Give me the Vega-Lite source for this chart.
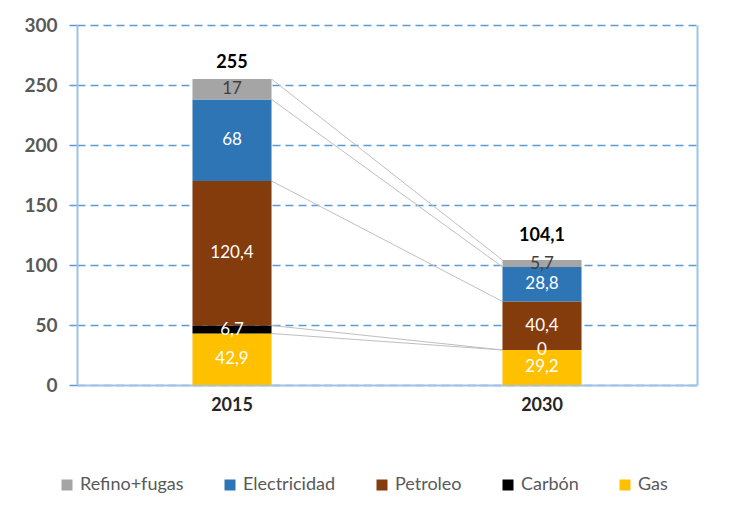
{
  "$schema": "https://vega.github.io/schema/vega-lite/v6.json",
  "autosize": "none",
  "width": 620,
  "height": 360,
  "padding": {"left": 77, "top": 25, "right": 33, "bottom": 137},
  "background": "white",
  "config": {
    "font": "Lato",
    "view": {"stroke": null},
    "locale": {"number": {"decimal": ",", "thousands": ".", "grouping": [3], "currency": ["", " €"]}}
  },
  "data": {
    "values": [
      {"year": "2015", "cat": "Gas", "value": 42.9, "order": 1},
      {"year": "2015", "cat": "Carbón", "value": 6.7, "order": 2},
      {"year": "2015", "cat": "Petroleo", "value": 120.4, "order": 3},
      {"year": "2015", "cat": "Electricidad", "value": 68, "order": 4},
      {"year": "2015", "cat": "Refino+fugas", "value": 17, "order": 5},
      {"year": "2030", "cat": "Gas", "value": 29.2, "order": 1},
      {"year": "2030", "cat": "Carbón", "value": 0, "order": 2},
      {"year": "2030", "cat": "Petroleo", "value": 40.4, "order": 3},
      {"year": "2030", "cat": "Electricidad", "value": 28.8, "order": 4},
      {"year": "2030", "cat": "Refino+fugas", "value": 5.7, "order": 5}
    ]
  },
  "encoding": {
    "x": {
      "field": "year",
      "type": "nominal",
      "scale": {"paddingInner": 0.745, "paddingOuter": 0.3725},
      "axis": {
        "title": null,
        "labelAngle": 0,
        "labelFontSize": 18,
        "labelFontWeight": "bold",
        "labelColor": "#262626",
        "labelPadding": 11,
        "ticks": false,
        "domainColor": "#9DC3E6",
        "domainWidth": 2,
        "grid": false
      }
    }
  },
  "resolve": {"axis": {"y": "independent"}},
  "layer": [
    {
      "transform": [
        {"stack": "value", "groupby": ["year"], "sort": [{"field": "order"}], "as": ["y0", "y1"]},
        {"pivot": "year", "value": "y1", "groupby": ["cat"]},
        {"calculate": "datum['2015']", "as": "a"},
        {"calculate": "datum['2030']", "as": "b"}
      ],
      "mark": {"type": "rule", "color": "#BFBFBF", "strokeWidth": 1},
      "encoding": {
        "x": {"datum": "2015", "type": "nominal", "bandPosition": 1},
        "x2": {"datum": "2030", "bandPosition": 0},
        "y": {
          "field": "a",
          "type": "quantitative",
          "scale": {"domain": [0, 300], "nice": false},
          "axis": {"orient": "right", "labels": false, "ticks": false, "grid": false, "title": null, "domainColor": "#9DC3E6", "domainWidth": 2}
        },
        "y2": {"field": "b"}
      }
    },
    {
      "mark": {"type": "bar"},
      "encoding": {
        "y": {
          "field": "value",
          "type": "quantitative",
          "stack": "zero",
          "scale": {"domain": [0, 300], "nice": false},
          "axis": {
            "title": null,
            "values": [0, 50, 100, 150, 200, 250, 300],
            "labelFontSize": 19,
            "labelFontWeight": "bold",
            "labelColor": "#595959",
            "labelPadding": 12,
            "tickSize": 8,
            "tickColor": "#5B9BD5",
            "tickDash": [8, 5],
            "tickWidth": 1.5,
            "grid": true,
            "gridColor": "#5B9BD5",
            "gridDash": [8, 5],
            "gridWidth": 1.5,
            "domainColor": "#9DC3E6",
            "domainWidth": 2
          }
        },
        "order": {"field": "order", "type": "quantitative"},
        "color": {
          "field": "cat",
          "type": "nominal",
          "scale": {
            "domain": ["Refino+fugas", "Electricidad", "Petroleo", "Carbón", "Gas"],
            "range": ["#A5A5A5", "#2E75B6", "#843C0C", "#000000", "#FFC000"]
          },
          "legend": {
            "orient": "none",
            "legendX": -19,
            "legendY": 451,
            "direction": "horizontal",
            "title": null,
            "symbolType": "square",
            "symbolSize": 121,
            "symbolStrokeWidth": 0,
            "labelFontSize": 18,
            "labelColor": "#595959",
            "labelOffset": 4,
            "columnPadding": 37
          }
        }
      }
    },
    {
      "transform": [
        {"stack": "value", "groupby": ["year"], "sort": [{"field": "order"}], "as": ["y0", "y1"]},
        {"calculate": "(datum.y0 + datum.y1) / 2", "as": "mid"}
      ],
      "mark": {"type": "text", "fontSize": 17, "baseline": "middle"},
      "encoding": {
        "y": {"field": "mid", "type": "quantitative", "scale": {"domain": [0, 300], "nice": false}, "axis": null},
        "text": {"field": "value", "type": "quantitative", "format": "~g"},
        "color": {"condition": {"test": "datum.cat === 'Refino+fugas'", "value": "#404040"}, "value": "white"}
      }
    },
    {
      "transform": [
        {"filter": "datum.year === '2015'"},
        {"aggregate": [{"op": "sum", "field": "value", "as": "total"}], "groupby": ["year"]}
      ],
      "mark": {"type": "text", "fontSize": 18, "fontWeight": "bold", "baseline": "middle", "dy": -16, "color": "#000000"},
      "encoding": {
        "y": {"field": "total", "type": "quantitative", "scale": {"domain": [0, 300], "nice": false}, "axis": null},
        "text": {"field": "total", "type": "quantitative", "format": "~g"}
      }
    },
    {
      "transform": [
        {"filter": "datum.year === '2030'"},
        {"aggregate": [{"op": "sum", "field": "value", "as": "total"}], "groupby": ["year"]}
      ],
      "mark": {"type": "text", "fontSize": 18, "fontWeight": "bold", "baseline": "middle", "dy": -24, "color": "#000000"},
      "encoding": {
        "y": {"field": "total", "type": "quantitative", "scale": {"domain": [0, 300], "nice": false}, "axis": null},
        "text": {"field": "total", "type": "quantitative", "format": "~g"}
      }
    }
  ]
}
